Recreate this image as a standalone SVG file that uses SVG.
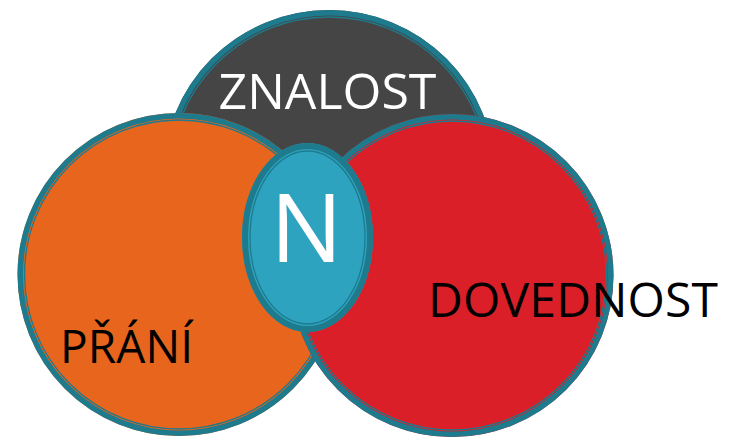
<svg xmlns="http://www.w3.org/2000/svg" width="734" height="438" viewBox="0 0 734 438">
<style>
.band{fill:none;stroke:#1E7A8D;stroke-width:5.5}
.thin{fill:none;stroke:#1E7A8D;stroke-width:1.3}
.lbl{font-family:"Open Sans","Noto Sans","Liberation Sans",sans-serif;text-anchor:middle}
</style>
<rect width="734" height="438" fill="#ffffff"/>
<g id="znalost">
<circle cx="329" cy="176" r="166" fill="#454545"/>
<circle class="band" cx="329" cy="176" r="163.25"/>
<circle class="thin" cx="329" cy="176" r="159"/>
<text class="lbl" x="327.5" y="109" font-size="50" fill="#ffffff">ZNALOST</text>
</g>
<g id="prani">
<circle cx="179" cy="274.5" r="161.5" fill="#E8651D"/>
<circle class="band" cx="179" cy="274.5" r="158.75"/>
<circle class="thin" cx="179" cy="274.5" r="154.5"/>
<text class="lbl" x="126.5" y="363" font-size="46" textLength="133" lengthAdjust="spacing" fill="#000000">PŘÁNÍ</text>
</g>
<g id="dovednost">
<circle cx="452" cy="275.5" r="161.5" fill="#DA1F28"/>
<circle class="band" cx="452" cy="275.5" r="158.75"/>
<circle class="thin" cx="452" cy="275.5" r="154.5"/>
<text class="lbl" x="573" y="316.5" font-size="48" textLength="290" lengthAdjust="spacing" fill="#000000">DOVEDNOST</text>
</g>
<g id="n">
<ellipse cx="307.5" cy="237.5" rx="65.5" ry="94.5" fill="#2DA3BF"/>
<ellipse cx="307.5" cy="237.5" rx="62.5" ry="91.5" fill="none" stroke="#1E7A8D" stroke-width="6"/>
<ellipse cx="307.5" cy="237.5" rx="57.5" ry="86.5" fill="none" stroke="#1E7A8D" stroke-width="1.3"/>
<text class="lbl" x="306.5" y="262" font-size="96" fill="#ffffff">N</text>
</g>
<g id="connectors"/>
</svg>
